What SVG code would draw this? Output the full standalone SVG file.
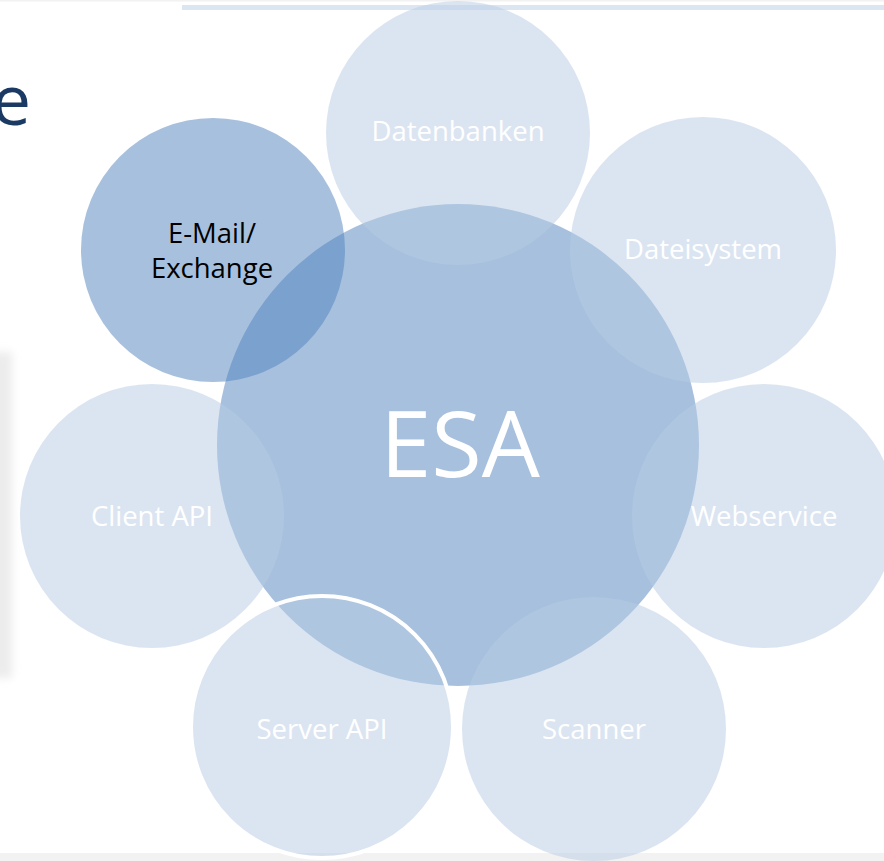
<svg xmlns="http://www.w3.org/2000/svg" width="884" height="861" viewBox="0 0 884 861">
<defs>
<style>
.esa{fill:#4f81bd;fill-opacity:0.5}
.dark{fill:#4f81bd;fill-opacity:0.5}
.light{fill:#b7cbe3;fill-opacity:0.5}
.lbl{font-family:"Open Sans","DejaVu Sans",sans-serif;font-size:27.5px;fill:#ffffff;text-anchor:middle}
.lblk{font-family:"Open Sans","DejaVu Sans",sans-serif;font-size:27.5px;fill:#000000;text-anchor:middle}
</style>
<filter id="blur" x="-1" y="-0.2" width="3" height="1.4"><feGaussianBlur stdDeviation="4"/></filter>
</defs>
<rect x="0" y="0" width="884" height="861" fill="#ffffff"/>
<rect x="0" y="0" width="884" height="1.5" fill="#f2f2f2"/>
<rect x="182" y="5" width="702" height="5" fill="#dce6f2"/>
<rect x="0" y="853" width="884" height="8" fill="#f2f2f2"/>
<rect x="-10" y="352" width="22" height="326" fill="#ececec" filter="url(#blur)"/>
<text x="31" y="125" font-family="Open Sans, DejaVu Sans, sans-serif" font-size="70" fill="#1a3a64" text-anchor="end">e</text>
<g id="node-esa"><circle class="esa" cx="458" cy="445" r="241"/></g>
<g id="node-email"><circle class="dark" cx="213" cy="250" r="132"/><text class="lblk" x="212" y="243">E-Mail/</text><text class="lblk" x="212" y="278">Exchange</text></g>
<g id="node-datenbanken"><circle class="light" cx="458" cy="133" r="132"/><text class="lbl" x="458" y="141">Datenbanken</text></g>
<g id="node-dateisystem"><circle class="light" cx="703" cy="250" r="133"/><text class="lbl" x="703" y="259">Dateisystem</text></g>
<g id="node-webservice"><circle class="light" cx="764" cy="516" r="132"/><text class="lbl" x="764" y="526">Webservice</text></g>
<g id="node-scanner"><circle class="light" cx="594" cy="729" r="132"/><text class="lbl" x="594" y="739">Scanner</text></g>
<g id="node-client"><circle class="light" cx="152" cy="516" r="132"/><text class="lbl" x="152" y="526">Client API</text></g>
<g id="node-server"><circle class="light" cx="322" cy="727" r="131" stroke="#ffffff" stroke-width="4"/><text class="lbl" x="322" y="739">Server API</text></g>
<g id="esa-label"><text x="460" y="477" font-family="Open Sans, DejaVu Sans, sans-serif" font-size="92" fill="#ffffff" text-anchor="middle">ESA</text></g>
<g id="connectors"></g>
</svg>
